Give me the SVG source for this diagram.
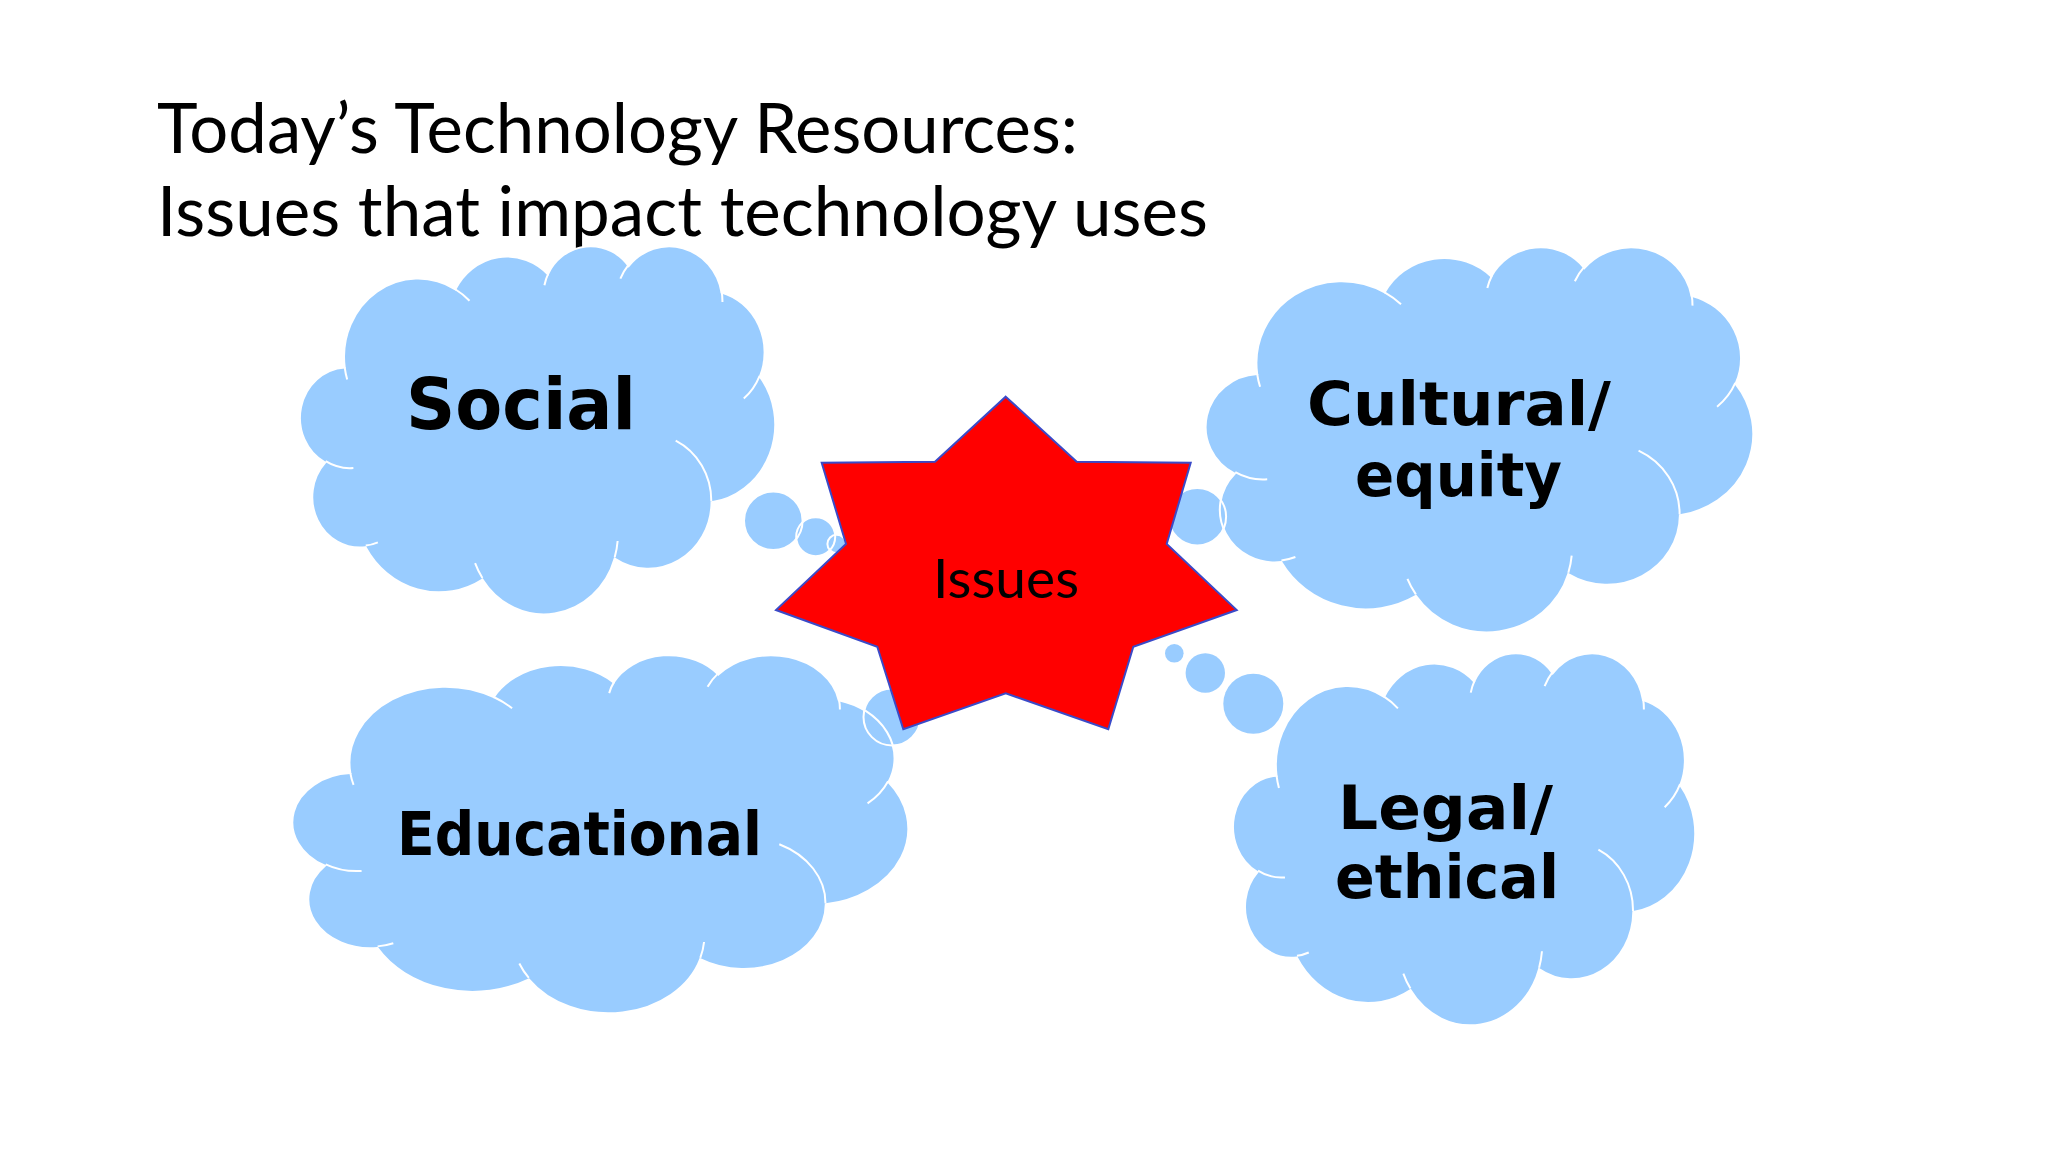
<svg xmlns="http://www.w3.org/2000/svg" xmlns:xlink="http://www.w3.org/1999/xlink" width="2048" height="1152" viewBox="0 0 2048 1152">
<style>
.title{font-family:Lato,"Open Sans","Liberation Sans",sans-serif;font-size:69px;fill:#000}
.lbl{font-family:"DejaVu Sans",Verdana,"Liberation Sans",sans-serif;font-weight:bold;font-size:60px;fill:#000}
.cfill{fill:#99CCFF;stroke:none}
.cline{fill:none;stroke:#FFFFFF;stroke-width:2}
.bub{fill:#99CCFF;stroke:none}
.bubl{fill:none;stroke:#FFFFFF;stroke-width:2}
.star{fill:#FF0000;stroke:#3A4AC8;stroke-width:2;stroke-linejoin:miter}
.issue{font-family:Lato,"Open Sans","Liberation Sans",sans-serif;font-size:52px;fill:#000}
</style>
<defs>
<path id="cloudShape" vector-effect="non-scaling-stroke" d="M3900 14370 A6753 9190 0 0 1 14006 5203 A5333 7267 0 0 1 22458 3430 A4365 5945 0 0 1 29835 2477 A4857 6595 0 0 1 38320 5574 A5333 7273 0 0 1 41820 15458 A6775 9220 0 0 1 37405 30200 A5785 7867 0 0 1 28557 36810 A6752 9215 0 0 1 16483 39264 A7720 10543 0 0 1 5806 35471 A4360 5918 0 0 1 2114 25551 A4345 5945 0 0 1 3900 14370 Z"/>
<path id="cloudInner" vector-effect="non-scaling-stroke" d="M4693 26177 A4345 5945 0 0 1 2160 25380 M6928 34899 A4360 5918 0 0 1 5820 35281 M16478 39090 A6752 9215 0 0 1 15809 37348 M28827 34751 A6752 9215 0 0 1 28561 36660 M34129 22954 A5785 7867 0 0 1 37381 30090 M41798 15354 A5333 7273 0 0 1 40350 18030 M38324 5426 A4857 6595 0 0 1 38400 6690 M29078 3952 A4857 6595 0 0 1 29821 2338 M22141 4720 A4365 5945 0 0 1 22500 3331 M14000 5192 A6753 9190 0 0 1 15299 6540 M4127 15789 A6753 9190 0 0 1 3900 14370"/>
</defs>
<rect x="0" y="0" width="2048" height="1152" fill="#FFFFFF"/>

<g id="title">
<text class="title" x="157" y="153" textLength="921" lengthAdjust="spacingAndGlyphs">Today’s Technology Resources:</text>
<text class="title" x="157" y="236" textLength="1051" lengthAdjust="spacingAndGlyphs">Issues that impact technology uses</text>
</g>

<g id="connectors"></g>

<g id="social">
<use xlink:href="#cloudShape" href="#cloudShape" class="cfill" transform="translate(302 245) scale(0.010949 0.008519)"/>
<circle class="bub" cx="773.3" cy="520.7" r="29.3"/>
<circle class="bub" cx="815.7" cy="536.7" r="19.5"/>
<circle class="bub" cx="836.7" cy="544" r="9.3"/>
<use xlink:href="#cloudShape" href="#cloudShape" class="cline" transform="translate(302 245) scale(0.010949 0.008519)"/>
<use xlink:href="#cloudInner" href="#cloudInner" class="cline" transform="translate(302 245) scale(0.010949 0.008519)"/>
<circle class="bubl" cx="773.3" cy="520.7" r="29.3"/>
<circle class="bubl" cx="815.7" cy="536.7" r="19.5"/>
<circle class="bubl" cx="836.7" cy="544" r="9.3"/>
<text class="lbl" x="406" y="429" style="font-size:72px" textLength="230" lengthAdjust="spacingAndGlyphs">Social</text>
</g>

<g id="cultural">
<use xlink:href="#cloudShape" href="#cloudShape" class="cfill" transform="translate(1208 246) scale(0.012616 0.008912)"/>
<circle class="bub" cx="1197.3" cy="516.7" r="28.8"/>
<use xlink:href="#cloudShape" href="#cloudShape" class="cline" transform="translate(1208 246) scale(0.012616 0.008912)"/>
<use xlink:href="#cloudInner" href="#cloudInner" class="cline" transform="translate(1208 246) scale(0.012616 0.008912)"/>
<circle class="bubl" cx="1197.3" cy="516.7" r="28.8"/>
<text class="lbl" x="1307" y="425" textLength="304" lengthAdjust="spacingAndGlyphs">Cultural/</text>
<text class="lbl" x="1355" y="496" textLength="207" lengthAdjust="spacingAndGlyphs">equity</text>
</g>

<g id="educational">
<use xlink:href="#cloudShape" href="#cloudShape" class="cfill" transform="translate(295 654) scale(0.014190 0.008287)"/>
<circle class="bub" cx="892" cy="717" r="28.5"/>
<use xlink:href="#cloudShape" href="#cloudShape" class="cline" transform="translate(295 654) scale(0.014190 0.008287)"/>
<use xlink:href="#cloudInner" href="#cloudInner" class="cline" transform="translate(295 654) scale(0.014190 0.008287)"/>
<circle class="bubl" cx="892" cy="717" r="28.5"/>
<text class="lbl" x="397" y="855" textLength="365" lengthAdjust="spacingAndGlyphs">Educational</text>
</g>

<g id="legal">
<use xlink:href="#cloudShape" href="#cloudShape" class="cfill" transform="translate(1235 652) scale(0.010648 0.008611)"/>
<circle class="bub" cx="1174.3" cy="653.3" r="9.3"/>
<circle class="bub" cx="1205.3" cy="673" r="19.7"/>
<circle class="bub" cx="1253.3" cy="703.7" r="30"/>
<use xlink:href="#cloudShape" href="#cloudShape" class="cline" transform="translate(1235 652) scale(0.010648 0.008611)"/>
<use xlink:href="#cloudInner" href="#cloudInner" class="cline" transform="translate(1235 652) scale(0.010648 0.008611)"/>
<text class="lbl" x="1338" y="829" textLength="215" lengthAdjust="spacingAndGlyphs">Legal/</text>
<text class="lbl" x="1335" y="898" textLength="224" lengthAdjust="spacingAndGlyphs">ethical</text>
</g>

<g id="issues">
<polygon class="star" points="1005.7,396.7 1076.7,461.7 1190.7,462.7 1166.7,544 1236.7,610 1133.3,646.7 1108.3,729.3 1005.7,693.3 903.3,729.3 877.3,646.7 776,610 846,544 821.7,462.7 935,461.7"/>
<text class="issue" x="933" y="598" style="font-size:54px" textLength="146" lengthAdjust="spacingAndGlyphs">Issues</text>
</g>
</svg>
